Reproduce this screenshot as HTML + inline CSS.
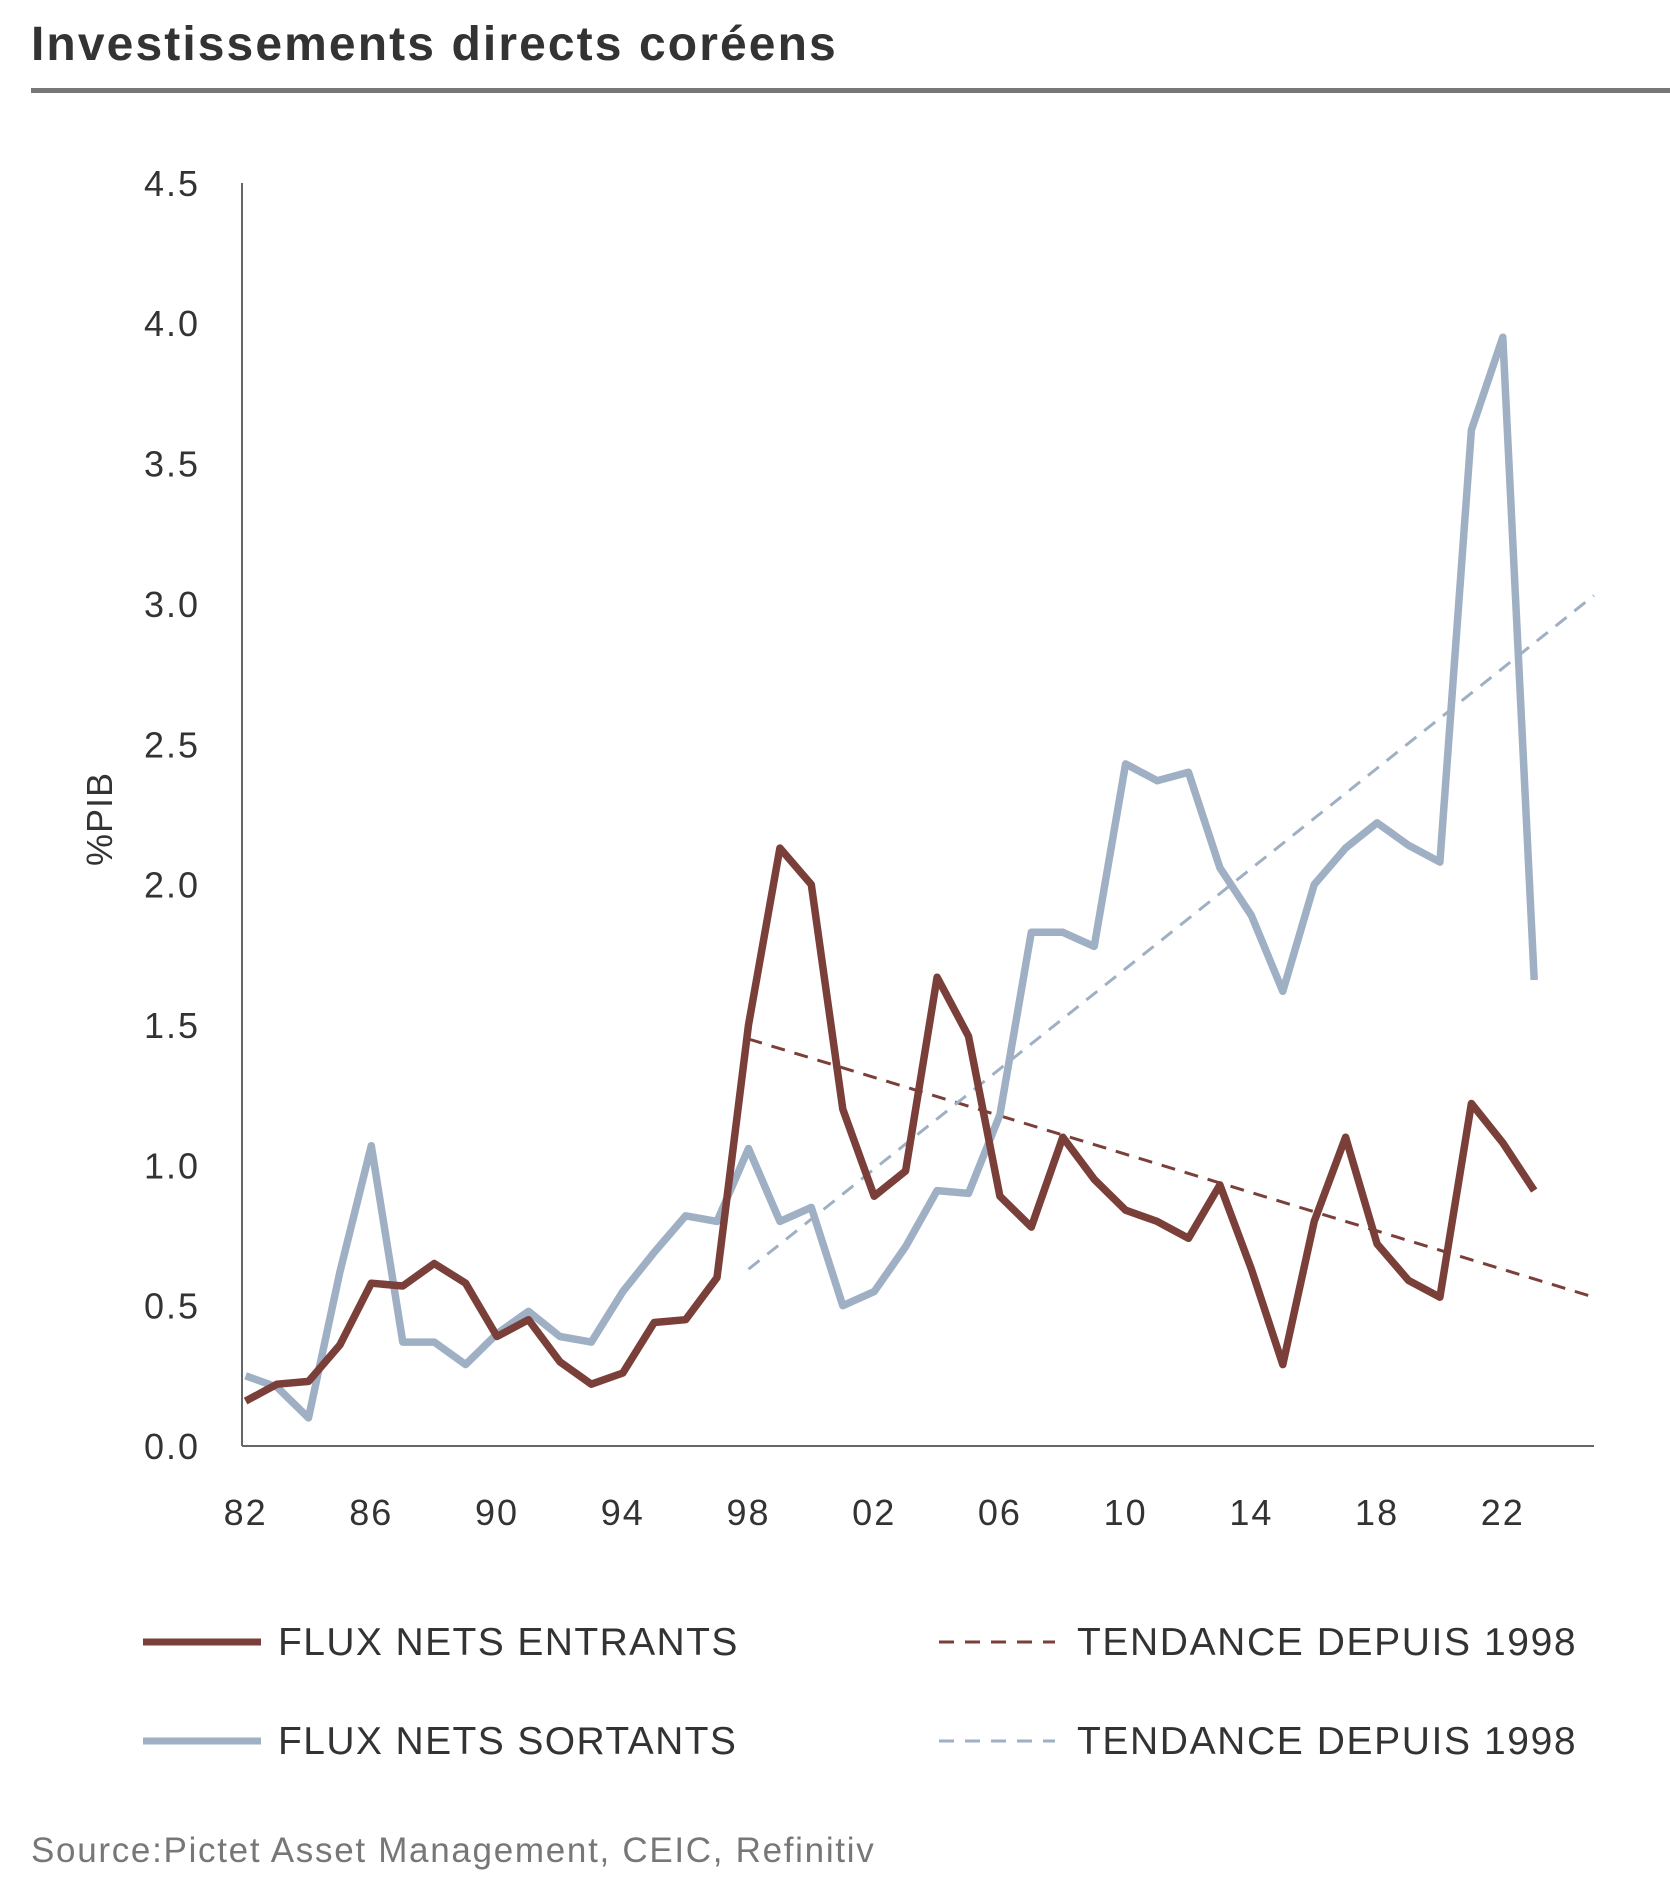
<!DOCTYPE html>
<html><head><meta charset="utf-8"><style>
body{margin:0;background:#fff;width:1670px;height:1891px;overflow:hidden;font-family:"Liberation Sans",sans-serif}
</style></head><body>
<svg width="1670" height="1891" id="svg" xmlns="http://www.w3.org/2000/svg">
<text x="31" y="60" font-size="48" font-weight="bold" fill="#333" letter-spacing="2.1">Investissements directs coréens</text>
<rect x="31" y="88" width="1640" height="5" fill="#777"/>
<text transform="translate(112,819) rotate(-90)" text-anchor="middle" font-size="36" fill="#333" letter-spacing="1">%PIB</text>
<g id="axes"></g>
<g id="marks"></g>
<g>
<line x1="143" y1="1642" x2="261" y2="1642" stroke="#7b3f3a" stroke-width="7"/>
<text x="278" y="1655" font-size="39" fill="#333" letter-spacing="1.4">FLUX NETS ENTRANTS</text>
<line x1="143" y1="1741" x2="261" y2="1741" stroke="#9fb0c5" stroke-width="7"/>
<text x="278" y="1754" font-size="39" fill="#333" letter-spacing="1.4">FLUX NETS SORTANTS</text>
<line x1="939" y1="1642" x2="1055" y2="1642" stroke="#7b3f3a" stroke-width="3" stroke-dasharray="15,11"/>
<text x="1077" y="1655" font-size="39" fill="#333" letter-spacing="1.6">TENDANCE DEPUIS 1998</text>
<line x1="939" y1="1741" x2="1055" y2="1741" stroke="#9fb0c5" stroke-width="3" stroke-dasharray="15,11"/>
<text x="1077" y="1754" font-size="39" fill="#333" letter-spacing="1.6">TENDANCE DEPUIS 1998</text>
</g>
<text x="31" y="1862" font-size="35" fill="#777" letter-spacing="1.7">Source:Pictet Asset Management, CEIC, Refinitiv</text>
</svg>
<script>
const years=[1982,1983,1984,1985,1986,1987,1988,1989,1990,1991,1992,1993,1994,1995,1996,1997,1998,1999,2000,2001,2002,2003,2004,2005,2006,2007,2008,2009,2010,2011,2012,2013,2014,2015,2016,2017,2018,2019,2020,2021,2022,2023];
const entrants=[0.16,0.22,0.23,0.36,0.58,0.57,0.65,0.58,0.39,0.45,0.30,0.22,0.26,0.44,0.45,0.60,1.50,2.13,2.00,1.20,0.89,0.98,1.67,1.46,0.89,0.78,1.10,0.95,0.84,0.80,0.74,0.93,0.63,0.29,0.80,1.10,0.72,0.59,0.53,1.22,1.08,0.91];
const sortants=[0.25,0.21,0.10,0.62,1.07,0.37,0.37,0.29,0.40,0.48,0.39,0.37,0.55,0.69,0.82,0.80,1.06,0.80,0.85,0.50,0.55,0.71,0.91,0.90,1.18,1.83,1.83,1.78,2.43,2.37,2.40,2.06,1.89,1.62,2.00,2.13,2.22,2.14,2.08,3.62,3.95,1.66];
const trendYears=[1998,2024.9];
const trendEntrants=[1.45,0.53];
const trendSortants=[0.63,3.03];
const yTicks=[0,0.5,1,1.5,2,2.5,3,3.5,4,4.5];
const yTickLabels=["0.0","0.5","1.0","1.5","2.0","2.5","3.0","3.5","4.0","4.5"];
const xTicks=[1982,1986,1990,1994,1998,2002,2006,2010,2014,2018,2022];
const xTickLabels=["82","86","90","94","98","02","06","10","14","18","22"];

const NS="http://www.w3.org/2000/svg";
const X=y=>245.6+(y-1982)*31.43;
const Y=v=>1446-v*280.7;
function mk(tag,attrs,parent){const e=document.createElementNS(NS,tag);for(const k in attrs)e.setAttribute(k,attrs[k]);parent.appendChild(e);return e;}
const axes=document.getElementById('axes'),marks=document.getElementById('marks');
let e=mk('line',{x1:242,y1:183,x2:242,y2:1446,stroke:'#666','stroke-width':2},axes);


e=mk('line',{x1:242,y1:1446,x2:1594,y2:1446,stroke:'#666','stroke-width':2},axes);


yTicks.forEach((v,i)=>{const t=mk('text',{x:200,y:Y(v)+13,'font-size':36,fill:'#333','text-anchor':'end','letter-spacing':2},axes);t.textContent=yTickLabels[i];

});
xTicks.forEach((v,i)=>{const t=mk('text',{x:X(v),y:1525,'font-size':36,fill:'#333','text-anchor':'middle','letter-spacing':2},axes);t.textContent=xTickLabels[i];

});
function pts(xs,vs){return xs.map((x,i)=>X(x).toFixed(1)+','+Y(vs[i]).toFixed(1)).join(' ');}
e=mk('polyline',{points:pts(trendYears,trendEntrants),fill:'none',stroke:'#7b3f3a','stroke-width':3,'stroke-dasharray':'14,10'},marks);


e=mk('polyline',{points:pts(trendYears,trendSortants),fill:'none',stroke:'#9fb0c5','stroke-width':3,'stroke-dasharray':'14,10'},marks);


e=mk('polyline',{points:pts(years,sortants),fill:'none',stroke:'#9fb0c5','stroke-width':7.5,'stroke-linejoin':'round'},marks);


e=mk('polyline',{points:pts(years,entrants),fill:'none',stroke:'#7b3f3a','stroke-width':7.5,'stroke-linejoin':'round'},marks);


</script>
</body></html>
